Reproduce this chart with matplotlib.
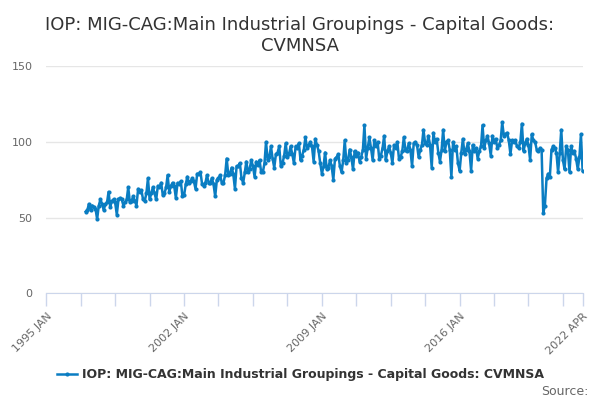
import matplotlib
matplotlib.use("Agg")
import matplotlib.pyplot as plt
import pandas as pd
from matplotlib.lines import Line2D

title = 'IOP: MIG-CAG:Main Industrial Groupings - Capital Goods:\nCVMNSA'
series_name = 'IOP: MIG-CAG:Main Industrial Groupings - Capital Goods: CVMNSA'
start_month = '1997-01-01'

# monthly values, one row per year (1997 .. 2022 APR)
values = [
    54, 55, 59, 55, 58, 57, 56, 49, 58, 62, 59, 55,     # 1997
    59, 60, 67, 57, 61, 62, 60, 52, 62, 63, 62, 58,     # 1998
    60, 62, 70, 60, 61, 64, 61, 58, 69, 67, 68, 62,     # 1999
    61, 66, 76, 62, 66, 70, 66, 62, 71, 70, 73, 65,     # 2000
    66, 70, 78, 67, 71, 73, 71, 63, 73, 72, 74, 64,     # 2001
    65, 72, 77, 73, 74, 76, 74, 69, 79, 79, 80, 72,     # 2002
    71, 73, 78, 73, 73, 76, 72, 64, 75, 76, 78, 73,     # 2003
    73, 78, 89, 78, 79, 83, 79, 69, 84, 84, 86, 76,     # 2004
    73, 80, 87, 80, 82, 88, 84, 77, 87, 85, 88, 80,     # 2005
    80, 86, 100, 88, 90, 97, 89, 83, 92, 93, 97, 84,    # 2006
    86, 91, 99, 90, 92, 97, 92, 86, 97, 96, 99, 88,     # 2007
    91, 95, 103, 96, 98, 100, 97, 87, 102, 98, 94, 86,  # 2008
    79, 84, 93, 82, 83, 88, 84, 75, 89, 90, 92, 84,     # 2009
    80, 88, 101, 86, 88, 95, 90, 82, 94, 91, 93, 87,    # 2010
    90, 95, 111, 89, 96, 103, 96, 88, 101, 97, 100, 89, # 2011
    91, 96, 104, 88, 94, 97, 93, 86, 98, 96, 100, 89,   # 2012
    90, 94, 103, 95, 94, 99, 95, 84, 99, 100, 98, 90,   # 2013
    95, 98, 108, 99, 98, 104, 98, 83, 106, 100, 102, 93, # 2014
    87, 95, 108, 94, 100, 101, 95, 77, 100, 95, 97, 86, # 2015
    81, 93, 102, 92, 95, 99, 94, 81, 98, 94, 96, 89,    # 2016
    94, 97, 111, 96, 101, 104, 99, 91, 104, 100, 102, 96, # 2017
    98, 101, 113, 104, 105, 106, 101, 92, 101, 100, 101, 97, # 2018
    96, 100, 112, 94, 99, 102, 98, 88, 105, 101, 100, 95, # 2019
    94, 96, 95, 53, 58, 76, 79, 77, 95, 97, 96, 93,     # 2020
    80, 93, 108, 88, 82, 97, 95, 80, 97, 93, 94, 89,    # 2021
    82, 90, 105, 81,                                    # 2022
]

yticks = [0, 50, 100, 150]
tick_labels = {'1995-01-01': '1995 JAN', '2002-01-01': '2002 JAN', '2009-01-01': '2009 JAN',
               '2016-01-01': '2016 JAN', '2022-04-01': '2022 APR'}

color = '#0a7dc2'
grey = '#666666'

dates = pd.date_range(start_month, periods=len(values), freq='MS')

fig = plt.figure(figsize=(6, 4), dpi=100)
ax = fig.add_axes([0.0772, 0.2668, 0.8938, 0.5675])

ax.plot(dates, values, color=color, lw=1.8, marker='o', ms=3, mew=0, zorder=3)

ax.set_ylim(0, 150)
ax.set_xlim(pd.Timestamp('1995-01-01'), pd.Timestamp('2022-04-01'))
ax.set_yticks(yticks)
ax.yaxis.grid(True, color='#e6e6e6', lw=1)
ax.set_axisbelow(True)
ax.tick_params(axis='y', length=0, labelsize=8, labelcolor=grey, pad=10)

# ticks every 21 months plus the end month
tick_dates = list(pd.date_range('1995-01-01', '2022-04-01', freq='21MS')) + [pd.Timestamp('2022-04-01')]
ax.set_xticks(tick_dates)
ax.set_xticklabels([tick_labels.get(d.strftime('%Y-%m-%d'), '') for d in tick_dates],
                   rotation=45, ha='right', rotation_mode='anchor')
ax.tick_params(axis='x', length=9, width=1, color='#ccd6eb', labelsize=8, labelcolor=grey, pad=4)

for s in ['top', 'right', 'left']:
    ax.spines[s].set_visible(False)
ax.spines['bottom'].set_color('#ccd6eb')

fig.text(0.5, 0.96, title, ha='center', va='top', fontsize=13, color='#333333', linespacing=1.2)

handle = Line2D([], [], color=color, lw=1.8, marker='o', ms=3, mew=0)
fig.legend([handle], [series_name], loc='center', bbox_to_anchor=(0.5, 0.063), frameon=False,
           prop={'size': 9, 'weight': 'bold'}, labelcolor='#333333', handlelength=1.6, handletextpad=0.4)

fig.text(0.98, 0.022, 'Source:', ha='right', va='center', fontsize=9, color=grey)

fig.savefig('out.png', dpi=100)
